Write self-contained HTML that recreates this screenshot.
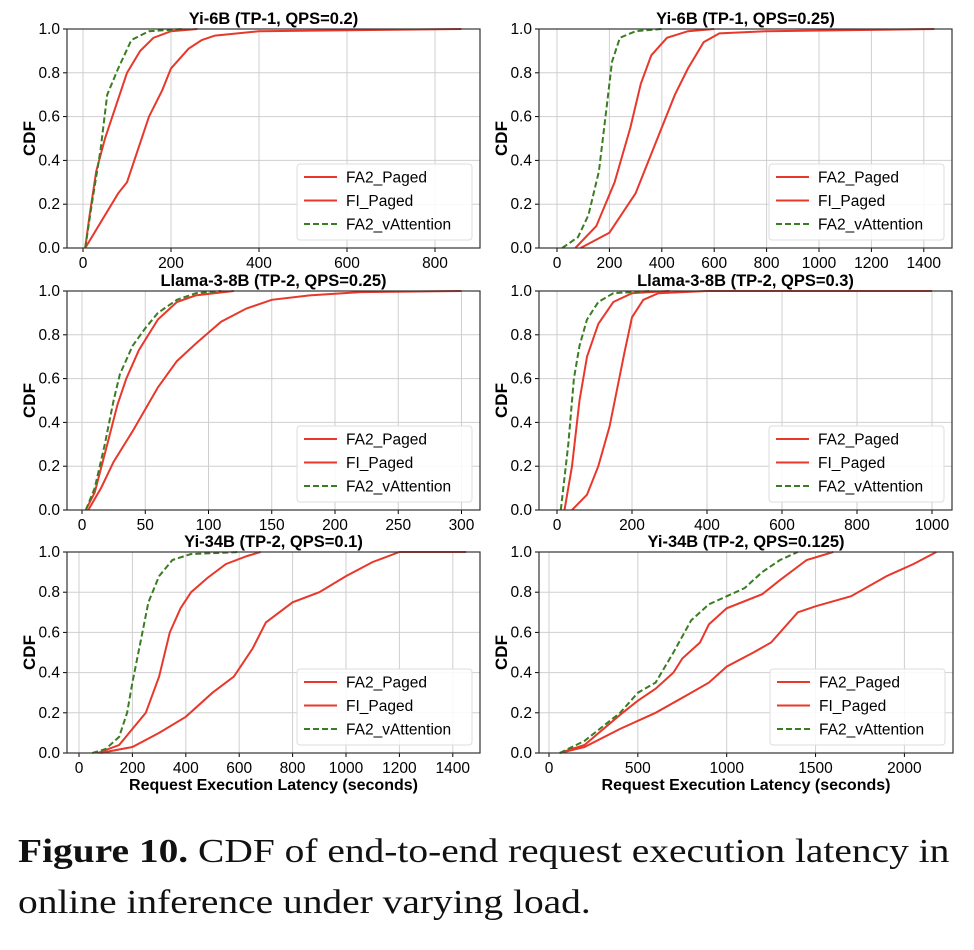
<!DOCTYPE html>
<html><head><meta charset="utf-8"><style>
body{margin:0;background:#fff;width:974px;height:950px;overflow:hidden}
svg{position:absolute;left:0;top:0}
.cap{position:absolute;left:18px;font-family:"Liberation Serif",serif;font-size:34px;color:#111;white-space:nowrap;transform-origin:0 0;transform:scaleX(1.16)}
</style></head><body>
<svg id="s" width="974" height="800" xmlns="http://www.w3.org/2000/svg"></svg>
<div class="cap" style="top:833px"><b>Figure 10.</b> CDF of end-to-end request execution latency in</div>
<div class="cap" style="top:884px">online inference under varying load.</div>
<script>
const P=[
{t:"Yi-6B (TP-1, QPS=0.2)",bx:67,bw:413,by:29,bh:219,x0:83,sc:0.44,ticks:[0,200,400,600,800],
g:[[5,0],[20,.2],[40,.45],[55,.7],[80,.82],[110,.95],[150,.99],[230,1]],
fi:[[5,0],[15,.15],[30,.35],[50,.5],[70,.62],[100,.8],[130,.9],[160,.96],[200,.99],[260,1]],
fa:[[5,0],[20,.05],[50,.15],[80,.25],[100,.3],[120,.42],[150,.6],[180,.72],[200,.82],[240,.91],[270,.95],[300,.97],[400,.99],[860,1]]},
{t:"Yi-6B (TP-1, QPS=0.25)",bx:539,bw:413,by:29,bh:219,x0:557,sc:0.262,ticks:[0,200,400,600,800,1000,1200,1400],
g:[[20,0],[80,.05],[120,.15],[160,.35],[190,.65],[210,.85],[240,.96],[300,.99],[400,1]],
fi:[[70,0],[150,.1],[220,.3],[280,.55],[320,.75],[360,.88],[420,.96],[500,.99],[600,1]],
fa:[[90,0],[200,.07],[300,.25],[350,.4],[400,.55],[450,.7],[500,.82],[560,.94],[620,.98],[800,.99],[1440,1]]},
{t:"Llama-3-8B (TP-2, QPS=0.25)",bx:67,bw:413,by:291,bh:219,x0:82,sc:1.265,ticks:[0,50,100,150,200,250,300],
g:[[3,0],[10,.1],[18,.3],[25,.5],[30,.62],[40,.75],[50,.83],[60,.9],[75,.96],[90,.99],[110,1]],
fi:[[3,0],[10,.08],[20,.3],[28,.48],[35,.6],[45,.73],[60,.87],[75,.95],[90,.98],[120,1]],
fa:[[5,0],[15,.1],[25,.22],[40,.36],[50,.46],[60,.56],[75,.68],[90,.76],[110,.86],[130,.92],[150,.96],[180,.98],[220,.995],[300,1]]},
{t:"Llama-3-8B (TP-2, QPS=0.3)",bx:539,bw:413,by:291,bh:219,x0:557,sc:0.375,ticks:[0,200,400,600,800,1000],
g:[[10,0],[30,.3],[45,.6],[60,.75],[80,.87],[110,.95],[150,.99],[250,1]],
fi:[[20,0],[40,.2],[60,.5],[80,.7],[110,.85],[150,.95],[200,.99],[300,1]],
fa:[[40,0],[80,.07],[110,.2],[140,.38],[160,.55],[180,.72],[200,.88],[230,.96],[270,.99],[400,1],[1000,1]]},
{t:"Yi-34B (TP-2, QPS=0.1)",bx:67,bw:413,by:552,bh:201,x0:79,sc:0.267,ticks:[0,200,400,600,800,1000,1200,1400],xl:1,
g:[[50,0],[100,.02],[150,.08],[180,.2],[200,.35],[230,.55],[260,.75],[300,.88],[350,.96],[420,.99],[600,1]],
fi:[[70,0],[150,.04],[250,.2],[300,.38],[340,.6],[380,.72],[420,.8],[480,.87],[550,.94],[630,.98],[680,1]],
fa:[[80,0],[200,.03],[300,.1],[400,.18],[500,.3],[580,.38],[650,.52],[700,.65],[800,.75],[900,.8],[1000,.88],[1100,.95],[1200,1],[1450,1]]},
{t:"Yi-34B (TP-2, QPS=0.125)",bx:539,bw:414,by:552,bh:201,x0:549,sc:0.1777,ticks:[0,500,1000,1500,2000],xl:1,
g:[[60,0],[200,.06],[400,.2],[500,.3],[600,.35],[700,.5],[800,.66],[900,.74],[1100,.82],[1200,.9],[1300,.96],[1400,1]],
fi:[[60,0],[200,.04],[400,.19],[500,.26],[600,.32],[700,.4],[750,.47],[850,.55],[900,.64],[1000,.72],[1200,.79],[1300,.86],[1450,.96],[1600,1]],
fa:[[60,0],[200,.03],[400,.12],[600,.2],[800,.3],[900,.35],[1000,.43],[1150,.5],[1250,.55],[1400,.7],[1500,.73],[1700,.78],[1900,.88],[2050,.94],[2180,1]]}
];
let h='';const F='font-family="Liberation Sans, DejaVu Sans, sans-serif"';
for(const p of P){
 const X=v=>p.x0+v*p.sc, Y=v=>p.by+p.bh-v*p.bh;
 for(const t of p.ticks){const x=X(t);h+=`<line x1="${x}" y1="${p.by}" x2="${x}" y2="${p.by+p.bh}" stroke="#cfcfcf" stroke-width="1"/><line x1="${x}" y1="${p.by+p.bh}" x2="${x}" y2="${p.by+p.bh+4}" stroke="#000"/><text x="${x}" y="${p.by+p.bh+20}" font-size="15.5" text-anchor="middle" ${F}>${t}</text>`;}
 for(let i=0;i<=5;i++){const v=i/5,y=Y(v);h+=`<line x1="${p.bx}" y1="${y}" x2="${p.bx+p.bw}" y2="${y}" stroke="#cfcfcf"/><line x1="${p.bx-4}" y1="${y}" x2="${p.bx}" y2="${y}" stroke="#000"/><text x="${p.bx-7}" y="${y+5}" font-size="15.5" text-anchor="end" ${F}>${v.toFixed(1)}</text>`;}
 const pl=(d,c,da)=>`<polyline fill="none" stroke="${c}" stroke-width="2" ${da?'stroke-dasharray="6,3"':''} points="${d.map(q=>X(q[0]).toFixed(1)+','+Y(q[1]).toFixed(1)).join(' ')}"/>`;
 h+=pl(p.fa,"#e8382b")+pl(p.fi,"#e8382b")+pl(p.g,"#3a7d22",1);
 h+=`<rect x="${p.bx}" y="${p.by}" width="${p.bw}" height="${p.bh}" fill="none" stroke="#333" stroke-width="1.2"/>`;
 h+=`<text x="${p.bx+p.bw/2}" y="${p.by-5}" font-size="16.5" font-weight="bold" text-anchor="middle" ${F}>${p.t}</text>`;
 const cy=p.by+p.bh/2;h+=`<text transform="translate(${p.bx-32},${cy}) rotate(-90)" font-size="17" font-weight="bold" text-anchor="middle" ${F}>CDF</text>`;
 const lx=p.bx+p.bw-183,ly=p.by+p.bh-84;
 h+=`<rect x="${lx}" y="${ly}" width="175" height="76" rx="3" fill="#fff" fill-opacity="0.85" stroke="#ddd"/>`;
 [["FA2_Paged","#e8382b",0],["FI_Paged","#e8382b",0],["FA2_vAttention","#3a7d22",1]].forEach((e,i)=>{const y=ly+13+i*23.5;
 h+=`<line x1="${lx+7}" y1="${y}" x2="${lx+40}" y2="${y}" stroke="${e[1]}" stroke-width="2" ${e[2]?'stroke-dasharray="6,3"':''}/><text x="${lx+49}" y="${y+5.5}" font-size="15.5" ${F}>${e[0]}</text>`;});
 if(p.xl)h+=`<text x="${p.bx+p.bw/2}" y="${p.by+p.bh+37}" font-size="16" font-weight="bold" text-anchor="middle" ${F}>Request Execution Latency (seconds)</text>`;
}
document.getElementById('s').innerHTML=h;
</script>
</body></html>
